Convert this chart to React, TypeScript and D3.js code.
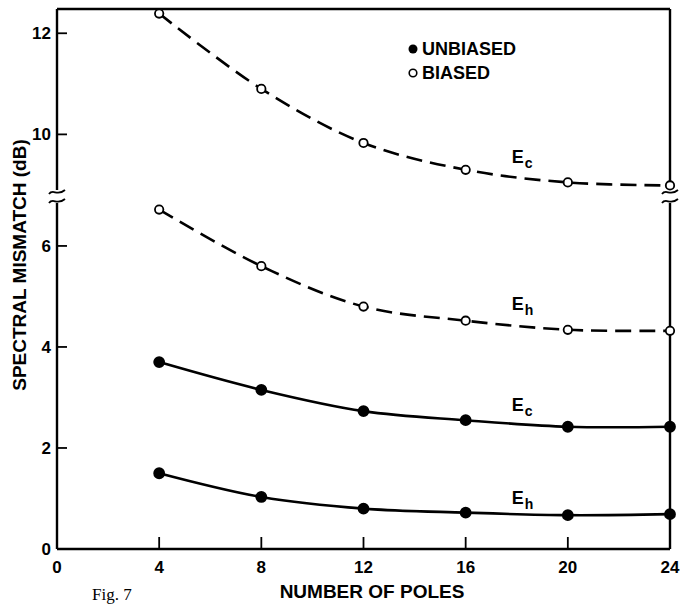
import React, { useEffect, useRef } from "react";
import * as d3 from "d3";

// number of poles (x)
const poles = [4, 8, 12, 16, 20, 24];
// spectral mismatch in dB
const unbiasedEh = [1.5, 1.03, 0.8, 0.72, 0.67, 0.69];
const unbiasedEc = [3.7, 3.15, 2.73, 2.55, 2.42, 2.42];
const biasedEh = [6.72, 5.6, 4.8, 4.52, 4.34, 4.32];
const biasedEc = [12.39, 10.9, 9.83, 9.3, 9.05, 8.99];

const xTicks = [0, 4, 8, 12, 16, 20, 24];
const yLowerTicks = [0, 2, 4, 6];
const yUpperTicks = [10, 12];

const FONT = "'Liberation Sans', Arial, sans-serif";

const App = () => {
  const svgRef = useRef<SVGSVGElement | null>(null);

  useEffect(() => {
    const svg = d3.select(svgRef.current);
    svg.selectAll("*").remove();

    const x = d3.scaleLinear().domain([0, 24]).range([57, 670]);
    // broken y axis: lower and upper parts share the same unit size
    const yLow = d3.scaleLinear().domain([0, 6.85]).range([549, 203]);
    const yUp = d3.scaleLinear().domain([8.9, 12.48]).range([190, 9]);

    const left = x(0);
    const right = x(24);
    const top = yUp(12.48);
    const bottom = yLow(0);
    const breakTop = yUp(8.9);
    const breakBottom = yLow(6.85);

    const frame = svg.append("g").attr("stroke", "#000").attr("stroke-width", 2.4).attr("fill", "none");
    frame.append("line").attr("x1", left).attr("x2", right).attr("y1", top).attr("y2", top);
    frame.append("line").attr("x1", left).attr("x2", right).attr("y1", bottom).attr("y2", bottom);
    [left, right].forEach((xx) => {
      frame.append("line").attr("x1", xx).attr("x2", xx).attr("y1", top).attr("y2", breakTop);
      frame.append("line").attr("x1", xx).attr("x2", xx).attr("y1", breakBottom).attr("y2", bottom);
      // break marks
      [breakTop + 2, breakBottom - 2].forEach((by) => {
        frame
          .append("path")
          .attr("stroke-width", 1.8)
          .attr("d", `M${xx - 8},${by + 2} C${xx - 4},${by - 4} ${xx},${by + 5} ${xx + 8},${by - 2}`);
      });
    });

    // ticks on left axis and bottom axis (inward)
    const tickG = svg.append("g").attr("stroke", "#000").attr("stroke-width", 1.8);
    yLowerTicks.filter((d) => d > 0).forEach((d) => {
      tickG.append("line").attr("x1", left).attr("x2", left + 10).attr("y1", yLow(d)).attr("y2", yLow(d));
    });
    yUpperTicks.forEach((d) => {
      tickG.append("line").attr("x1", left).attr("x2", left + 10).attr("y1", yUp(d)).attr("y2", yUp(d));
    });
    xTicks.filter((d) => d > 0 && d < 24).forEach((d) => {
      tickG.append("line").attr("x1", x(d)).attr("x2", x(d)).attr("y1", bottom).attr("y2", bottom - 12);
    });

    const labels = svg
      .append("g")
      .attr("font-family", FONT)
      .attr("font-weight", "bold")
      .attr("font-size", 17)
      .attr("fill", "#000");

    yLowerTicks.forEach((d) => {
      labels
        .append("text")
        .attr("x", left - 6)
        .attr("y", yLow(d))
        .attr("dy", "0.35em")
        .attr("text-anchor", "end")
        .text(d);
    });
    yUpperTicks.forEach((d) => {
      labels
        .append("text")
        .attr("x", left - 6)
        .attr("y", yUp(d))
        .attr("dy", "0.35em")
        .attr("text-anchor", "end")
        .text(d);
    });
    xTicks.forEach((d) => {
      labels
        .append("text")
        .attr("x", x(d))
        .attr("y", bottom + 18)
        .attr("dy", "0.35em")
        .attr("text-anchor", "middle")
        .text(d);
    });

    labels
      .append("text")
      .attr("x", 372)
      .attr("y", bottom + 42)
      .attr("dy", "0.35em")
      .attr("text-anchor", "middle")
      .attr("font-size", 19)
      .text("NUMBER OF POLES");

    labels
      .append("text")
      .attr("transform", `translate(19,265) rotate(-90)`)
      .attr("dy", "0.35em")
      .attr("text-anchor", "middle")
      .attr("font-size", 19)
      .text("SPECTRAL MISMATCH (dB)");

    svg
      .append("text")
      .attr("x", 92)
      .attr("y", 600)
      .attr("font-family", "'Liberation Serif', 'Times New Roman', serif")
      .attr("font-size", 17)
      .text("Fig. 7");

    // curves
    const series = [
      { values: biasedEc, y: yUp, dashed: true, label: "c", lx: 17.8, ly: 9.55 },
      { values: biasedEh, y: yLow, dashed: true, label: "h", lx: 17.8, ly: 4.85 },
      { values: unbiasedEc, y: yLow, dashed: false, label: "c", lx: 17.8, ly: 2.85 },
      { values: unbiasedEh, y: yLow, dashed: false, label: "h", lx: 17.8, ly: 1.0 },
    ];

    series.forEach((s) => {
      const pts: [number, number][] = poles.map((p, i) => [x(p), s.y(s.values[i])]);
      const line = d3.line().curve(d3.curveCatmullRom.alpha(0.5));
      svg
        .append("path")
        .attr("d", line(pts))
        .attr("fill", "none")
        .attr("stroke", "#000")
        .attr("stroke-width", 2.6)
        .attr("stroke-dasharray", s.dashed ? "16,8" : null);

      svg
        .append("g")
        .selectAll("circle")
        .data(pts)
        .enter()
        .append("circle")
        .attr("cx", (d) => d[0])
        .attr("cy", (d) => d[1])
        .attr("r", s.dashed ? 4.2 : 5)
        .attr("fill", s.dashed ? "#fff" : "#000")
        .attr("stroke", "#000")
        .attr("stroke-width", 1.8);

      const t = labels
        .append("text")
        .attr("x", x(s.lx))
        .attr("y", s.y(s.ly))
        .attr("dy", "0.35em");
      t.append("tspan").attr("font-size", 18).text("E");
      t.append("tspan").attr("font-size", 14).attr("dy", 5).attr("dx", 1).text(s.label);
    });

    // legend
    const lg = svg.append("g").attr("font-family", FONT).attr("font-weight", "bold").attr("font-size", 18);
    lg.append("circle").attr("cx", 413).attr("cy", 49).attr("r", 4.5).attr("fill", "#000");
    lg.append("text").attr("x", 422).attr("y", 49).attr("dy", "0.35em").text("UNBIASED");
    lg.append("circle").attr("cx", 413).attr("cy", 73).attr("r", 3.8).attr("fill", "#fff").attr("stroke", "#000").attr("stroke-width", 1.6);
    lg.append("text").attr("x", 422).attr("y", 73).attr("dy", "0.35em").text("BIASED");
  }, []);

  return (
    <svg
      ref={svgRef}
      width={684}
      height={604}
      style={{ position: "absolute", left: 0, top: 0, background: "#fff" }}
    ></svg>
  );
};

export default App;
